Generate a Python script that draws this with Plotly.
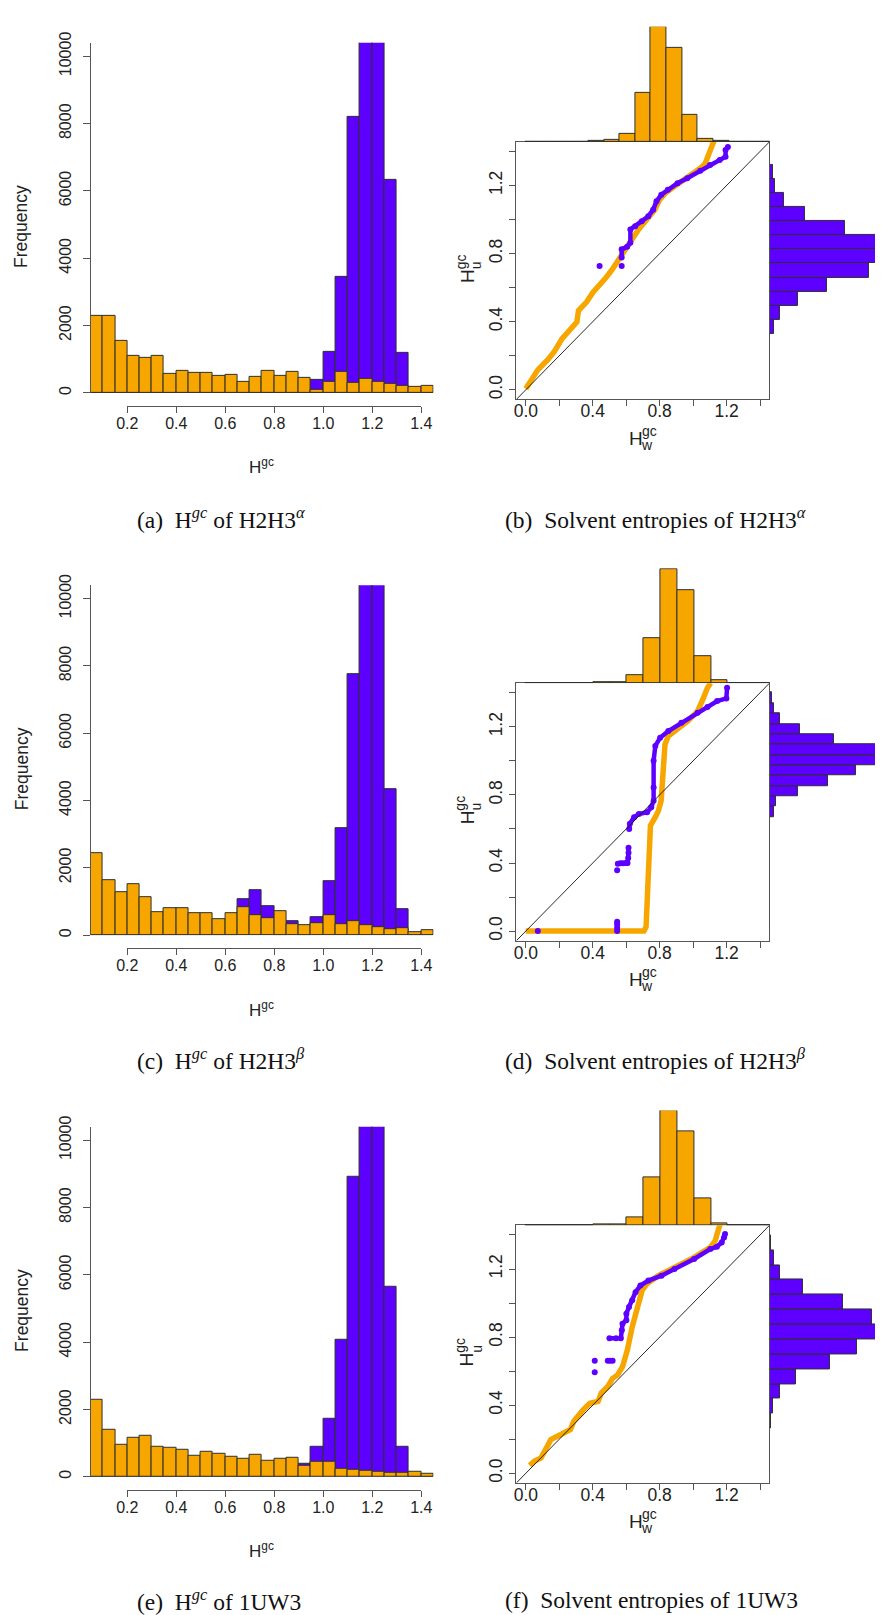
import plotly.graph_objects as go

W, H = 886, 1615
def fx(p): return p / W
def fy(p): return 1 - p / H

ORANGE = "#F7A600"
PURPLE = "#5E00FF"
EDGE = "#2f2f2f"
AXC = "#555555"
SANS = "Liberation Sans, Arial, sans-serif"
SERIF = "Liberation Serif, Times New Roman, serif"

# ---------------- data ----------------
hist_centers = [0.075, 0.125, 0.175, 0.225, 0.275, 0.325, 0.375, 0.425, 0.475, 0.525,
                0.575, 0.625, 0.675, 0.725, 0.775, 0.825, 0.875, 0.925, 0.975, 1.025,
                1.075, 1.125, 1.175, 1.225, 1.275, 1.325, 1.375, 1.425]

orange_a = [2290, 2290, 1560, 1110, 1030, 1100, 570, 640, 600, 600, 510, 550, 315, 480,
            640, 500, 630, 450, 100, 325, 620, 295, 410, 325, 275, 205, 185, 215]
purple_a = [0, 0, 0, 0, 0, 0, 0, 0, 0, 0, 0, 0, 0, 0,
            0, 0, 0, 0, 390, 1230, 3440, 8200, 11500, 11200, 6320, 1200, 0, 0]

orange_c = [2440, 1640, 1290, 1520, 1130, 690, 815, 815, 640, 660, 480, 640, 825, 600,
            500, 715, 315, 295, 365, 590, 325, 415, 305, 225, 175, 195, 100, 135]
purple_c = [0, 0, 0, 0, 0, 0, 0, 0, 0, 0, 0, 0, 1080, 1345,
            855, 0, 405, 0, 540, 1600, 3175, 7770, 11500, 11000, 4340, 785, 0, 0]

orange_e = [2300, 1405, 965, 1160, 1210, 885, 865, 815, 620, 735, 690, 610, 550, 640,
            490, 540, 570, 315, 460, 450, 225, 215, 185, 140, 120, 120, 140, 100]
purple_e = [0, 0, 0, 0, 0, 0, 0, 0, 0, 0, 0, 0, 0, 0,
            0, 0, 0, 395, 895, 1730, 4060, 8900, 11500, 11000, 5635, 885, 0, 0]

# QQ curves (H_w, H_u)
qq_orange_b_x = [0.0, 0.043, 0.072, 0.130, 0.169, 0.217, 0.266, 0.305, 0.315, 0.363, 0.402, 0.441,
                 0.480, 0.518, 0.557, 0.596, 0.635, 0.674, 0.732, 0.771, 0.800, 0.839, 0.887,
                 0.965, 1.043, 1.072, 1.097, 1.120, 1.130]
qq_orange_b_y = [0.006, 0.078, 0.117, 0.175, 0.223, 0.301, 0.359, 0.398, 0.466, 0.515, 0.573, 0.612,
                 0.660, 0.709, 0.767, 0.825, 0.883, 0.942, 1.010, 1.058, 1.117, 1.159, 1.194,
                 1.243, 1.301, 1.330, 1.388, 1.450, 1.476]
qq_purple_b_x = [0.441, None, 0.573, None, 0.573, 0.573, 0.606, 0.625, 0.625, 0.654, 0.693, 0.732,
                 0.761, 0.781, 0.810, 0.849, 0.907, 0.965, 1.043, 1.101, 1.159, 1.194, 1.194, 1.208]
qq_purple_b_y = [0.728, None, 0.728, None, 0.777, 0.825, 0.841, 0.864, 0.942, 0.961, 0.990, 1.019,
                 1.058, 1.107, 1.146, 1.175, 1.214, 1.243, 1.287, 1.320, 1.350, 1.369, 1.408, 1.427]

qq_orange_d_x = [0.0, 0.706, 0.719, 0.729, 0.735, 0.745, 0.774, 0.793, 0.809, 0.813, 0.819, 0.825,
                 0.832, 0.852, 0.891, 0.969, 1.027, 1.047, 1.062, 1.086, 1.105]
qq_orange_d_y = [0.0, 0.0, 0.025, 0.259, 0.552, 0.620, 0.669, 0.708, 0.766, 0.844, 0.942, 1.039,
                 1.097, 1.146, 1.175, 1.234, 1.292, 1.331, 1.370, 1.429, 1.458]
qq_purple_d_x = [0.072, None, 0.546, 0.546, 0.546, 0.546, None, 0.546, None,
                 0.550, 0.565, 0.580, 0.598, 0.608, 0.612, 0.614, 0.614, None,
                 0.618, 0.622, 0.647, 0.676, 0.725, 0.750, 0.764, 0.764, 0.764, 0.774, 0.803,
                 0.852, 0.930, 1.027, 1.086, 1.144, 1.199, 1.203]
qq_purple_d_y = [0.0, None, 0.0, 0.02, 0.04, 0.055, None, 0.357, None,
                 0.396, 0.398, 0.398, 0.400, 0.400, 0.430, 0.460, 0.489, None,
                 0.600, 0.630, 0.669, 0.688, 0.698, 0.727, 0.766, 0.844, 1.000, 1.088, 1.136,
                 1.175, 1.224, 1.283, 1.316, 1.351, 1.367, 1.429]

qq_orange_f_x = [0.023, 0.053, 0.091, 0.121, 0.150, 0.189, 0.228, 0.267, 0.286, 0.315, 0.344, 0.383,
                 0.432, 0.451, 0.490, 0.519, 0.549, 0.578, 0.607, 0.636, 0.665, 0.695, 0.724,
                 0.792, 0.889, 1.006, 1.103, 1.132, 1.146, 1.161]
qq_orange_f_y = [0.047, 0.072, 0.091, 0.140, 0.198, 0.218, 0.237, 0.257, 0.305, 0.344, 0.374, 0.412,
                 0.422, 0.471, 0.510, 0.558, 0.578, 0.626, 0.724, 0.860, 0.977, 1.074, 1.113,
                 1.161, 1.210, 1.268, 1.327, 1.366, 1.414, 1.463]
qq_purple_f_x = [0.412, None, 0.412, None, 0.490, 0.504, 0.519, None,
                 0.500, 0.539, 0.568, 0.574, 0.578, 0.601, 0.601, 0.617, 0.636, 0.656, 0.685,
                 0.733, 0.811, 0.889, 1.006, 1.103, 1.142, 1.171, 1.185, 1.191]
qq_purple_f_y = [0.661, None, 0.593, None, 0.661, 0.661, 0.661, None,
                 0.794, 0.794, 0.794, 0.840, 0.879, 0.899, 0.938, 0.977, 1.016, 1.064, 1.103,
                 1.132, 1.161, 1.200, 1.259, 1.317, 1.331, 1.356, 1.385, 1.405]

# marginal histograms (relative counts per bin, bins from 0 upward)
top_b = [1, 1, 1, 1, 2, 5, 23, 149, 348, 283, 81, 10, 2, 1, 1, 1]
right_b = [1, 1, 1, 1, 12, 32, 86, 175, 305, 360, 355, 232, 107, 42, 15, 8, 1]
top_d = [1, 1, 1, 1, 2, 4, 23, 137, 346, 281, 81, 8, 1, 1, 1]
right_d = [1, 1, 1, 1, 1, 1, 1, 1, 1, 1, 1, 12, 18, 86, 178, 265, 350, 345, 197, 91, 32, 12, 5]
top_f = [1, 1, 1, 1, 2, 3, 24, 144, 347, 283, 81, 7, 1, 1, 1]
right_f = [1, 1, 1, 2, 10, 32, 80, 183, 267, 330, 313, 223, 102, 32, 12, 3]

hist_ticks = [0, 2000, 4000, 6000, 8000, 10000]
hist_ticklabels = ["0", "2000", "4000", "6000", "8000", "10000"]
hist_xticks = [0.2, 0.4, 0.6, 0.8, 1.0, 1.2, 1.4]
hist_xticklabels = ["0.2", "0.4", "0.6", "0.8", "1.0", "1.2", "1.4"]
qq_ticks = [0.0, 0.2, 0.4, 0.6, 0.8, 1.0, 1.2, 1.4]
qq_ticklabels = ["0.0", " ", "0.4", " ", "0.8", " ", "1.2", " "]

hist_captions = ["(a)  H<sup><i>gc</i></sup> of H2H3<sup><i>α</i></sup>",
                 "(c)  H<sup><i>gc</i></sup> of H2H3<sup><i>β</i></sup>",
                 "(e)  H<sup><i>gc</i></sup> of 1UW3"]
qq_captions = ["(b)  Solvent entropies of H2H3<sup><i>α</i></sup>",
               "(d)  Solvent entropies of H2H3<sup><i>β</i></sup>",
               "(f)  Solvent entropies of 1UW3"]

rows = [
    dict(orange=orange_a, purple=purple_a,
         qox=qq_orange_b_x, qoy=qq_orange_b_y, qpx=qq_purple_b_x, qpy=qq_purple_b_y,
         top=top_b, right=right_b, tw=0.0934, rw=0.0825),
    dict(orange=orange_c, purple=purple_c,
         qox=qq_orange_d_x, qoy=qq_orange_d_y, qpx=qq_purple_d_x, qpy=qq_purple_d_y,
         top=top_d, right=right_d, tw=0.1006, rw=0.0609),
    dict(orange=orange_e, purple=purple_e,
         qox=qq_orange_f_x, qoy=qq_orange_f_y, qpx=qq_purple_f_x, qpy=qq_purple_f_y,
         top=top_f, right=right_f, tw=0.1006, rw=0.0874),
]

# ---------------- layout geometry (pixels) ----------------
HIST_BASE = [385, 931.7, 1477.7]
QQ_TOP = [132, 677.7, 1224.3]
CAP_Y = [511, 1057, 1602]
PPC = 339.3 / 10000.0
QQ_H = 259.5
LO, HI = -0.056, 1.456

fig = go.Figure()
layout = {}
annotations = []
counter = [0]

def new_axes(xdom, ydom, xkw, ykw):
    counter[0] += 1
    i = counter[0]
    xa = "xaxis" if i == 1 else f"xaxis{i}"
    ya = "yaxis" if i == 1 else f"yaxis{i}"
    xr = "x" if i == 1 else f"x{i}"
    yr = "y" if i == 1 else f"y{i}"
    base = dict(showgrid=False, zeroline=False, showticklabels=False, ticks="",
                showline=False, fixedrange=True)
    xd = dict(base); xd.update(domain=xdom, anchor=yr); xd.update(xkw)
    yd = dict(base); yd.update(domain=ydom, anchor=xr); yd.update(ykw)
    layout[xa] = xd
    layout[ya] = yd
    return xr, yr

tick_font_h = dict(family=SANS, size=16, color="#222")
tick_font_q = dict(family=SANS, size=17.5, color="#222")

for r, d in enumerate(rows):
    b0 = HIST_BASE[r]
    top = b0 - 10400 * PPC
    # histogram
    xr, yr = new_axes([fx(81.6), fx(433.3)], [fy(b0), fy(top)],
                      dict(range=[0.05, 1.45]),
                      dict(range=[0, 10400], showline=True, linecolor=AXC, linewidth=1,
                           ticks="outside", ticklen=7, tickcolor=AXC, tickwidth=1,
                           tickvals=hist_ticks, ticktext=hist_ticklabels,
                           showticklabels=True, tickangle=-90, ticklabelstandoff=5,
                           tickfont=tick_font_h))
    fig.add_trace(go.Bar(x=hist_centers, y=d["purple"], width=0.05, xaxis=xr, yaxis=yr,
                         marker=dict(color=PURPLE, line=dict(color=EDGE, width=1))))
    fig.add_trace(go.Bar(x=hist_centers, y=d["orange"], width=0.05, xaxis=xr, yaxis=yr,
                         marker=dict(color=ORANGE, line=dict(color=EDGE, width=1))))
    # detached x axis of histogram
    xr2, yr2 = new_axes([fx(119.3), fx(420.7)], [fy(b0 + 13), fy(b0 + 12)],
                        dict(range=[0.2, 1.4], showline=True, linecolor=AXC, linewidth=1,
                             ticks="outside", ticklen=6, tickcolor=AXC, tickvals=hist_xticks,
                             ticktext=hist_xticklabels, showticklabels=True,
                             ticklabelstandoff=-3, tickfont=tick_font_h),
                        dict(range=[0, 1]))
    fig.add_trace(go.Scatter(x=[None], y=[None], xaxis=xr2, yaxis=yr2, hoverinfo="skip"))
    annotations.append(dict(text="Frequency", x=fx(11), y=fy(b0 - 168), xref="paper",
                            yref="paper", showarrow=False, textangle=-90,
                            font=dict(family=SANS, size=17.5, color="#222"),
                            xanchor="center", yanchor="middle"))
    annotations.append(dict(text="H<sup>gc</sup>", x=fx(257), y=fy(b0 + 74), xref="paper",
                            yref="paper", showarrow=False,
                            font=dict(family=SANS, size=17, color="#222"),
                            xanchor="center", yanchor="middle"))

    # QQ plot
    T = QQ_TOP[r]
    B = T + QQ_H
    qx, qy = new_axes([fx(518.3), fx(777.7)], [fy(B), fy(T)],
                      dict(range=[LO, HI], showline=True, mirror=True, linecolor=AXC,
                           linewidth=1.3, ticks="outside", ticklen=6, tickcolor=AXC,
                           tickvals=qq_ticks, ticktext=qq_ticklabels, showticklabels=True,
                           ticklabelstandoff=-10, tickfont=tick_font_q),
                      dict(range=[LO, HI], showline=True, mirror=True, linecolor=AXC,
                           linewidth=1.3, ticks="outside", ticklen=6, tickcolor=AXC,
                           tickvals=qq_ticks, ticktext=qq_ticklabels, showticklabels=True,
                           tickangle=-90, tickfont=tick_font_q))
    fig.add_trace(go.Scatter(x=d["qox"], y=d["qoy"], mode="lines", xaxis=qx, yaxis=qy,
                             line=dict(color=ORANGE, width=5.5), hoverinfo="skip"))
    fig.add_trace(go.Scatter(x=d["qpx"], y=d["qpy"], mode="lines+markers", xaxis=qx, yaxis=qy,
                             line=dict(color=PURPLE, width=4.5),
                             marker=dict(color=PURPLE, size=6), connectgaps=False,
                             hoverinfo="skip"))
    fig.add_trace(go.Scatter(x=[LO, HI], y=[LO, HI], mode="lines", xaxis=qx, yaxis=qy,
                             line=dict(color="#111", width=0.9), hoverinfo="skip"))

    # top marginal histogram
    tx, ty = new_axes([fx(518.3), fx(777.7)], [fy(T), fy(T - 116)],
                      dict(range=[LO, HI]), dict(range=[0, 348]))
    tc = [(k + 0.5) * d["tw"] for k in range(len(d["top"]))]
    fig.add_trace(go.Bar(x=tc, y=d["top"], width=d["tw"], xaxis=tx, yaxis=ty,
                         marker=dict(color=ORANGE, line=dict(color=EDGE, width=1))))

    # right marginal histogram
    rx, ry = new_axes([fx(778.3), 1.0], [fy(B), fy(T)],
                      dict(range=[0, 323]), dict(range=[LO, HI]))
    rc = [(k + 0.5) * d["rw"] for k in range(len(d["right"]))]
    fig.add_trace(go.Bar(y=rc, x=d["right"], width=d["rw"], orientation="h",
                         xaxis=rx, yaxis=ry,
                         marker=dict(color=PURPLE, line=dict(color=EDGE, width=1))))

    # QQ axis titles
    tf_big = dict(family=SANS, size=19, color="#222")
    tf_small = dict(family=SANS, size=14, color="#222")
    for txt, px, py, f in [("H", 640.8, B + 39, tf_big), ("gc", 654.8, B + 31.5, tf_small),
                           ("w", 652.5, B + 46, tf_small)]:
        annotations.append(dict(text=txt, x=fx(px), y=fy(py), xref="paper", yref="paper",
                                showarrow=False, font=f, xanchor="center", yanchor="middle"))
    for txt, px, py, f in [("H", 467.5, T + 135.2, tf_big), ("gc", 461, T + 120.8, tf_small),
                           ("u", 477, T + 124.2, tf_small)]:
        annotations.append(dict(text=txt, x=fx(px), y=fy(py), xref="paper", yref="paper",
                                showarrow=False, font=f, textangle=-90,
                                xanchor="center", yanchor="middle"))

    # captions
    annotations.append(dict(text=hist_captions[r], x=fx(127), y=fy(CAP_Y[r]), xref="paper",
                            yref="paper", showarrow=False, xanchor="left", yanchor="middle",
                            font=dict(family=SERIF, size=23.5, color="#111")))
    annotations.append(dict(text=qq_captions[r], x=fx(505), y=fy(CAP_Y[r]), xref="paper",
                            yref="paper", showarrow=False, xanchor="left", yanchor="middle",
                            font=dict(family=SERIF, size=23.5, color="#111")))

layout.update(dict(width=W, height=H, margin=dict(l=0, r=0, t=0, b=0),
                   paper_bgcolor="white", plot_bgcolor="white", showlegend=False,
                   barmode="overlay", bargap=0, annotations=annotations))
fig.update_layout(**layout)
fig.write_html("out.html")
